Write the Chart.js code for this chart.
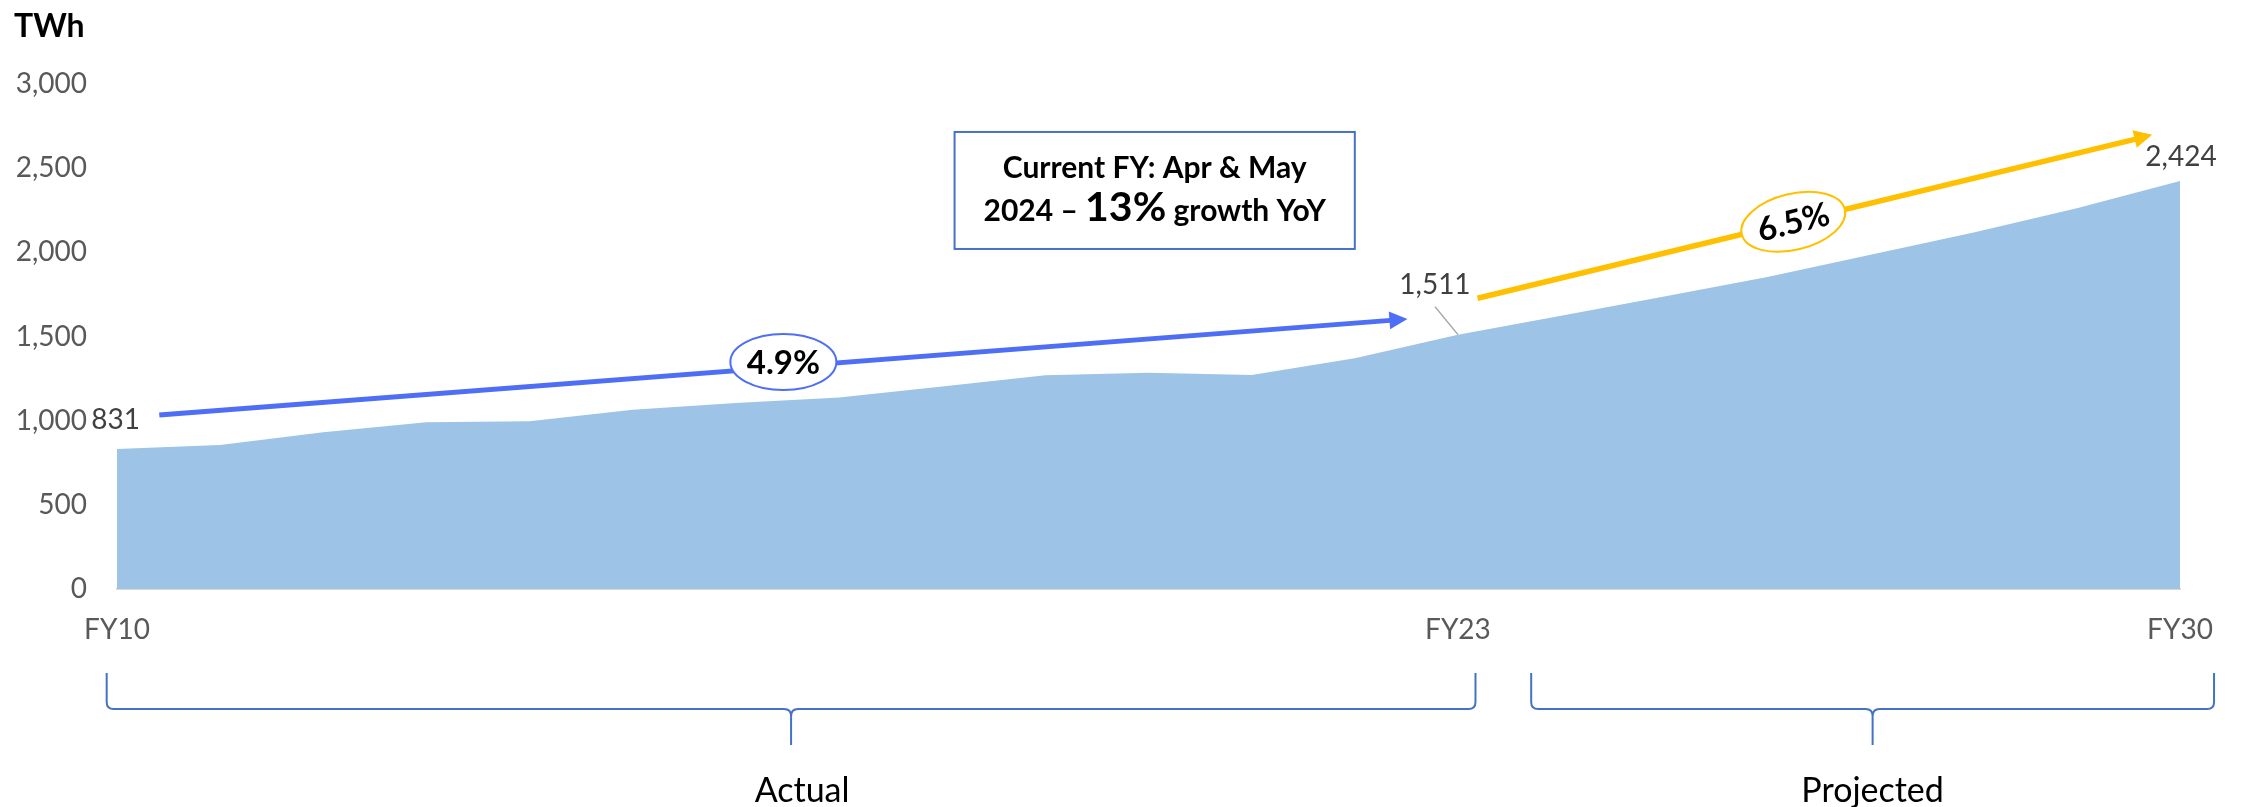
<!DOCTYPE html>
<html>
<head>
<meta charset="utf-8">
<script src="https://cdn.jsdelivr.net/npm/chart.js@4.4.1/dist/chart.umd.min.js"></script>
<style>
  html, body { margin: 0; padding: 0; background: #fff; }
</style>
</head>
<body>
<canvas id="demandChart" width="2241" height="807"></canvas>
<script>
// values
const years = ['FY10', 'FY11', 'FY12', 'FY13', 'FY14', 'FY15', 'FY16', 'FY17', 'FY18', 'FY19', 'FY20',
  'FY21', 'FY22', 'FY23', 'FY24', 'FY25', 'FY26', 'FY27', 'FY28', 'FY29', 'FY30'];
const demandTWh = [831, 856, 931, 990, 996, 1065, 1105, 1137, 1203, 1270, 1285,
  1271, 1371, 1511, 1623, 1737, 1854, 1985, 2118, 2262, 2424];
const shownYears = ['FY10', 'FY23', 'FY30'];
const yTicks = [0, 500, 1000, 1500, 2000, 2500, 3000];
const growthRates = ['4.9%', '6.5%'];
const periods = ['Actual', 'Projected'];
const unitLabel = 'TWh';
const noteLine1 = 'Current FY: Apr & May';
const noteLine2 = ['2024 \u2013 ', '13%', ' growth YoY'];

const fmt = v => v.toLocaleString('en-US');
const BLUE = '#4D6EF5';
const YELLOW = '#FFC000';
const BOX = '#4472C4';

function arrow(ctx, x0, y0, x1, y1, color, w) {
  const a = Math.atan2(y1 - y0, x1 - x0);
  const len = 18, hw = 9;
  const bx = x1 - len * Math.cos(a), by = y1 - len * Math.sin(a);
  ctx.strokeStyle = color;
  ctx.lineWidth = w;
  ctx.beginPath();
  ctx.moveTo(x0, y0);
  ctx.lineTo(bx + 1, by);
  ctx.stroke();
  ctx.fillStyle = color;
  ctx.beginPath();
  ctx.moveTo(x1, y1);
  ctx.lineTo(bx + hw * Math.sin(a), by - hw * Math.cos(a));
  ctx.lineTo(bx - hw * Math.sin(a), by + hw * Math.cos(a));
  ctx.closePath();
  ctx.fill();
}

function badge(ctx, cx, cy, angle, text, color) {
  ctx.save();
  ctx.translate(cx, cy);
  ctx.rotate(angle);
  ctx.beginPath();
  ctx.ellipse(0, 0, 53, 28, 0, 0, Math.PI * 2);
  ctx.fillStyle = '#fff';
  ctx.fill();
  ctx.lineWidth = 2;
  ctx.strokeStyle = color;
  ctx.stroke();
  ctx.fillStyle = '#000';
  ctx.font = 'bold 33px Lato';
  ctx.textAlign = 'center';
  ctx.textBaseline = 'middle';
  ctx.fillText(text, 0, 1);
  ctx.restore();
}

function brace(ctx, x0, x1, top, bar, tip) {
  const xm = (x0 + x1) / 2, r = 7;
  ctx.beginPath();
  ctx.moveTo(x0, top);
  ctx.lineTo(x0, bar - r);
  ctx.quadraticCurveTo(x0, bar, x0 + r, bar);
  ctx.lineTo(xm - r, bar);
  ctx.quadraticCurveTo(xm, bar, xm, bar + r);
  ctx.lineTo(xm, tip);
  ctx.moveTo(xm, bar + r);
  ctx.quadraticCurveTo(xm, bar, xm + r, bar);
  ctx.lineTo(x1 - r, bar);
  ctx.quadraticCurveTo(x1, bar, x1, bar - r);
  ctx.lineTo(x1, top);
  ctx.stroke();
}

const annotate = {
  id: 'annotate',
  afterDatasetsDraw(chart) {
    const { ctx, chartArea, scales: { x, y } } = chart;
    const pt = (i, v) => [x.getPixelForValue(i), y.getPixelForValue(v)];
    const pts = chart.getDatasetMeta(0).data;
    ctx.save();

    // unit
    ctx.fillStyle = '#000';
    ctx.font = 'bold 32px Lato';
    ctx.textAlign = 'left';
    ctx.textBaseline = 'middle';
    ctx.fillText(unitLabel, 14, 27);

    // data labels
    ctx.font = '28px Lato';
    ctx.fillStyle = '#404040';
    const p0 = pts[years.indexOf('FY10')];
    ctx.textAlign = 'right';
    ctx.fillText(fmt(demandTWh[0]), p0.x + 23, p0.y - 29);
    const i23 = years.indexOf('FY23');
    const p23 = pts[i23];
    ctx.textAlign = 'center';
    ctx.fillText(fmt(demandTWh[i23]), p23.x - 23, p23.y - 50);
    ctx.strokeStyle = '#A6A6A6';
    ctx.lineWidth = 1.5;
    ctx.beginPath();
    ctx.moveTo(p23.x - 23, p23.y - 28);
    ctx.lineTo(p23.x, p23.y);
    ctx.stroke();
    const i30 = years.indexOf('FY30');
    const p30 = pts[i30];
    ctx.fillText(fmt(demandTWh[i30]), p30.x + 1, p30.y - 24);

    // growth arrows
    const [ax0, ay0] = pt(0.41, 1034), [ax1, ay1] = pt(12.51, 1604);
    arrow(ctx, ax0, ay0, ax1, ay1, BLUE, 5);
    badge(ctx, (ax0 + ax1) / 2, (ay0 + ay1) / 2 - 5, 0, growthRates[0], BLUE);
    const [bx0, by0] = pt(13.19, 1727), [bx1, by1] = pt(19.73, 2698);
    arrow(ctx, bx0, by0, bx1, by1, YELLOW, 5.5);
    const t = 0.468;
    badge(ctx, bx0 + (bx1 - bx0) * t, by0 + (by1 - by0) * t,
      Math.atan2(by1 - by0, bx1 - bx0), growthRates[1], YELLOW);

    // note box
    const [nx0, ny0] = pt(8.12, 2715), [nx1, ny1] = pt(12.0, 2020);
    ctx.fillStyle = '#fff';
    ctx.fillRect(nx0, ny0, nx1 - nx0, ny1 - ny0);
    ctx.strokeStyle = BOX;
    ctx.lineWidth = 2;
    ctx.strokeRect(nx0, ny0, nx1 - nx0, ny1 - ny0);
    const ncx = (nx0 + nx1) / 2;
    ctx.fillStyle = '#000';
    ctx.textBaseline = 'alphabetic';
    ctx.textAlign = 'center';
    ctx.font = 'bold 30px Lato';
    ctx.fillText(noteLine1, ncx, ny0 + 46);
    const fonts = ['bold 30px Lato', 'bold 41px Lato', 'bold 30px Lato'];
    const widths = noteLine2.map((s, k) => { ctx.font = fonts[k]; return ctx.measureText(s).width; });
    let cx = ncx - widths.reduce((a, b) => a + b, 0) / 2;
    ctx.textAlign = 'left';
    noteLine2.forEach((s, k) => {
      ctx.font = fonts[k];
      ctx.fillText(s, cx, ny0 + 89);
      cx += widths[k];
    });

    // period braces
    const b = chartArea.bottom;
    ctx.strokeStyle = BOX;
    ctx.lineWidth = 2;
    const spans = [[-0.1, 13.17], [13.71, 20.33]];
    const nudge = [11, 0];
    ctx.fillStyle = '#000';
    ctx.font = '34px Lato';
    ctx.textAlign = 'center';
    ctx.textBaseline = 'middle';
    spans.forEach(([s, e], k) => {
      const xs = x.getPixelForValue(s), xe = x.getPixelForValue(e);
      brace(ctx, xs, xe, b + 84, b + 120, b + 156);
      ctx.fillText(periods[k], (xs + xe) / 2 + nudge[k], b + 202);
    });
    ctx.restore();
  }
};

Chart.defaults.font.family = 'Lato';

new Chart(document.getElementById('demandChart'), {
  type: 'line',
  data: {
    labels: years,
    datasets: [{
      data: demandTWh,
      fill: 'origin',
      backgroundColor: '#9DC3E6',
      borderWidth: 0,
      pointRadius: 0,
      tension: 0
    }]
  },
  options: {
    responsive: false,
    animation: false,
    layout: { padding: { left: 0, top: 84, right: 61, bottom: 0 } },
    plugins: { legend: { display: false }, tooltip: { enabled: false } },
    scales: {
      x: {
        grid: { display: false, drawTicks: false },
        border: { display: true, color: '#D9D9D9', width: 2 },
        ticks: {
          autoSkip: false, maxRotation: 0, minRotation: 0,
          padding: 24, color: '#595959', font: { size: 28 },
          callback: (v, i) => shownYears.includes(years[i]) ? years[i] : ''
        },
        afterFit: s => { s.height = 218; }
      },
      y: {
        min: 0, max: 3000,
        afterBuildTicks: s => { s.ticks = yTicks.map(v => ({ value: v })); },
        grid: { display: false, drawTicks: false },
        border: { display: false },
        ticks: { padding: 30, color: '#595959', font: { size: 28 }, callback: v => fmt(v) },
        afterFit: s => { s.width = 117; }
      }
    }
  },
  plugins: [annotate]
});
</script>
</body>
</html>
